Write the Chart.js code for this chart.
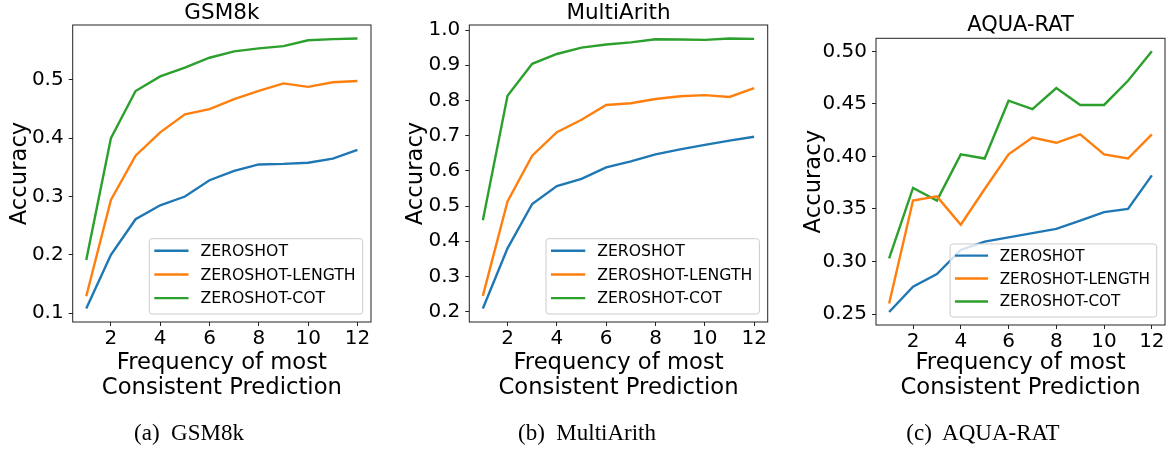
<!DOCTYPE html>
<html>
<head>
<meta charset="utf-8">
<script src="https://cdn.jsdelivr.net/npm/chart.js@4.4.1/dist/chart.umd.min.js"></script>
<style>
  body { margin: 0; background: #fff; }
  #fig { position: relative; width: 1170px; height: 452px; overflow: hidden; }
  #fig canvas { position: absolute; top: 0; }
  .caption {
    position: absolute; top: 421px; transform: translateX(-50%);
    font-family: "Liberation Serif", "Times New Roman", serif; font-size: 23px;
    line-height: 24px; white-space: pre; color: #000;
  }
</style>
</head>
<body>
<div id="fig">
  <canvas id="gsm" width="390" height="452" style="left:0px"></canvas>
  <canvas id="multi" width="386" height="452" style="left:396px"></canvas>
  <canvas id="aqua" width="376" height="452" style="left:794px"></canvas>
  <div class="caption" style="left:189px">(a)  GSM8k</div>
  <div class="caption" style="left:587px">(b)  MultiArith</div>
  <div class="caption" style="left:983px">(c)  AQUA-RAT</div>
</div>
<script>
// data
const frequency = [1, 2, 3, 4, 5, 6, 7, 8, 9, 10, 11, 12];
const seriesNames = ['ZEROSHOT', 'ZEROSHOT-LENGTH', 'ZEROSHOT-COT'];
const xTicks = [2, 4, 6, 8, 10, 12];

const gsmZeroshot = [0.108, 0.200, 0.261, 0.285, 0.300, 0.328, 0.344, 0.355, 0.356, 0.358, 0.365, 0.380];
const gsmLength   = [0.129, 0.294, 0.370, 0.410, 0.441, 0.450, 0.467, 0.481, 0.494, 0.488, 0.496, 0.498];
const gsmCot      = [0.191, 0.400, 0.481, 0.506, 0.521, 0.538, 0.549, 0.554, 0.558, 0.568, 0.570, 0.571];
const gsmYTicks = [0.1, 0.2, 0.3, 0.4, 0.5];

const multiZeroshot = [0.209, 0.380, 0.506, 0.557, 0.577, 0.610, 0.627, 0.647, 0.661, 0.674, 0.686, 0.697];
const multiLength   = [0.245, 0.513, 0.643, 0.710, 0.745, 0.787, 0.792, 0.804, 0.812, 0.815, 0.810, 0.835];
const multiCot      = [0.460, 0.813, 0.904, 0.932, 0.950, 0.959, 0.965, 0.974, 0.973, 0.972, 0.976, 0.975];
const multiYTicks = [0.2, 0.3, 0.4, 0.5, 0.6, 0.7, 0.8, 0.9, 1.0];

const aquaZeroshot = [0.252, 0.276, 0.288, 0.311, 0.319, 0.323, 0.327, 0.331, 0.339, 0.347, 0.350, 0.382];
const aquaLength   = [0.260, 0.358, 0.362, 0.335, 0.369, 0.402, 0.418, 0.413, 0.421, 0.402, 0.398, 0.421];
const aquaCot      = [0.303, 0.370, 0.358, 0.402, 0.398, 0.453, 0.445, 0.465, 0.449, 0.449, 0.472, 0.500];
const aquaYTicks = [0.25, 0.30, 0.35, 0.40, 0.45, 0.50];

const colors = ['#1f77b4', '#ff7f0e', '#2ca02c'];
const FONT = '"DejaVu Sans", sans-serif';
Chart.defaults.font.family = FONT;
Chart.defaults.color = '#000';

const panels = [
  { id: 'gsm', title: 'GSM8k', series: [gsmZeroshot, gsmLength, gsmCot], yTicks: gsmYTicks, digits: 1 },
  { id: 'multi', title: 'MultiArith', series: [multiZeroshot, multiLength, multiCot], yTicks: multiYTicks, digits: 1 },
  { id: 'aqua', title: 'AQUA-RAT', series: [aquaZeroshot, aquaLength, aquaCot], yTicks: aquaYTicks, digits: 2 }
];

// pixel layout of each panel (relative to its canvas)
const layouts = [
  { yWidth: 72.7, padRight: 19,   titleMid: 13.6, titleSize: 21.5, plotTop: 25,   plotBottom: 322, legendSize: 15.7 },
  { yWidth: 73.3, padRight: 14.3, titleMid: 13.6, titleSize: 21.5, plotTop: 25,   plotBottom: 322, legendSize: 15.7 },
  { yWidth: 82,   padRight: 5,    titleMid: 25.9, titleSize: 21,   plotTop: 38.3, plotBottom: 325, legendSize: 15.2 }
];

// matplotlib-like 5% margins
function padRange(lo, hi) {
  const m = (hi - lo) * 0.05;
  return [lo - m, hi + m];
}

const framePlugin = {
  id: 'frame',
  afterDatasetsDraw(chart) {
    const { ctx, chartArea: a } = chart;
    ctx.save();
    ctx.strokeStyle = '#222';
    ctx.lineWidth = 1;
    ctx.strokeRect(a.left, a.top, a.right - a.left, a.bottom - a.top);
    ctx.restore();
  }
};

// legend box in the lower right corner of the plot, like matplotlib's
const boxLegend = {
  id: 'boxLegend',
  afterDraw(chart, args, opts) {
    const { ctx, chartArea: a } = chart;
    const fs = opts.size;
    ctx.save();
    ctx.font = fs + 'px ' + FONT;
    const sets = chart.data.datasets;
    const textW = Math.max(...sets.map(d => ctx.measureText(d.label).width));
    const rowH = fs * 1.51;
    const w = fs * (0.32 + 2.18 + 0.76 + 0.45) + textW;
    const h = rowH * sets.length + 4.2;
    const x = a.right - 8.3 - w;
    const y = a.bottom - 8 - h;
    ctx.beginPath();
    ctx.roundRect(x, y, w, h, 3);
    ctx.fillStyle = 'rgba(255,255,255,0.8)';
    ctx.fill();
    ctx.strokeStyle = '#cccccc';
    ctx.lineWidth = 1;
    ctx.stroke();
    sets.forEach((d, i) => {
      const cy = y + rowH * (i + 0.5) + 0.2;
      const sx = x + fs * 0.32;
      ctx.beginPath();
      ctx.moveTo(sx, cy);
      ctx.lineTo(sx + fs * 2.18, cy);
      ctx.strokeStyle = d.borderColor;
      ctx.lineWidth = 2.4;
      ctx.stroke();
      ctx.fillStyle = '#000';
      ctx.textBaseline = 'middle';
      ctx.textAlign = 'left';
      ctx.fillText(d.label, sx + fs * (2.18 + 0.76), cy + 1);
    });
    ctx.restore();
  }
};

panels.forEach((p, k) => {
  const L = layouts[k];
  const all = p.series.flat();
  const [yMin, yMax] = padRange(Math.min(...all), Math.max(...all));
  const [xMin, xMax] = padRange(frequency[0], frequency[frequency.length - 1]);
  const titleTop = L.titleMid - L.titleSize / 2;

  new Chart(document.getElementById(p.id), {
    type: 'line',
    data: {
      datasets: p.series.map((vals, i) => ({
        label: seriesNames[i],
        data: frequency.map((f, j) => ({ x: f, y: vals[j] })),
        borderColor: colors[i],
        borderWidth: 2.4,
        pointRadius: 0,
        tension: 0,
        fill: false
      }))
    },
    options: {
      responsive: false,
      animation: false,
      events: [],
      layout: { padding: { left: 0, top: 0, right: L.padRight, bottom: 452 - 401.2 } },
      plugins: {
        legend: { display: false },
        tooltip: { enabled: false },
        title: {
          display: true, text: p.title, fullSize: false, color: '#000',
          font: { family: FONT, size: L.titleSize, weight: 'normal', lineHeight: 1 },
          padding: { top: titleTop, bottom: L.plotTop - titleTop - L.titleSize }
        },
        boxLegend: { size: L.legendSize }
      },
      scales: {
        x: {
          type: 'linear', min: xMin, max: xMax,
          afterFit: s => { s.height = 401.2 - L.plotBottom; },
          afterBuildTicks: s => { s.ticks = xTicks.map(v => ({ value: v })); },
          ticks: { autoSkip: false, maxRotation: 0, padding: 3, color: '#000',
                   font: { size: 20, lineHeight: 1 } },
          grid: { drawOnChartArea: false, drawTicks: true, tickLength: 4, tickColor: '#222', tickWidth: 1 },
          border: { display: false },
          title: { display: true, text: ['Frequency of most', 'Consistent Prediction'], color: '#000',
                   font: { size: 22.7, lineHeight: 1.132 }, padding: { top: 0, bottom: 0 } }
        },
        y: {
          type: 'linear', min: yMin, max: yMax,
          afterFit: s => { s.width = L.yWidth; },
          afterBuildTicks: s => { s.ticks = p.yTicks.map(v => ({ value: v })); },
          ticks: { autoSkip: false, padding: 5, color: '#000', font: { size: 20 },
                   callback: v => Number(v).toFixed(p.digits) },
          grid: { drawOnChartArea: false, drawTicks: true, tickLength: 4, tickColor: '#222', tickWidth: 1 },
          border: { display: false },
          title: { display: true, text: 'Accuracy', color: '#000',
                   font: { size: 22.7, lineHeight: 1.2 }, padding: { top: 6.5, bottom: 0 } }
        }
      }
    },
    plugins: [framePlugin, boxLegend]
  });
});
</script>
</body>
</html>
